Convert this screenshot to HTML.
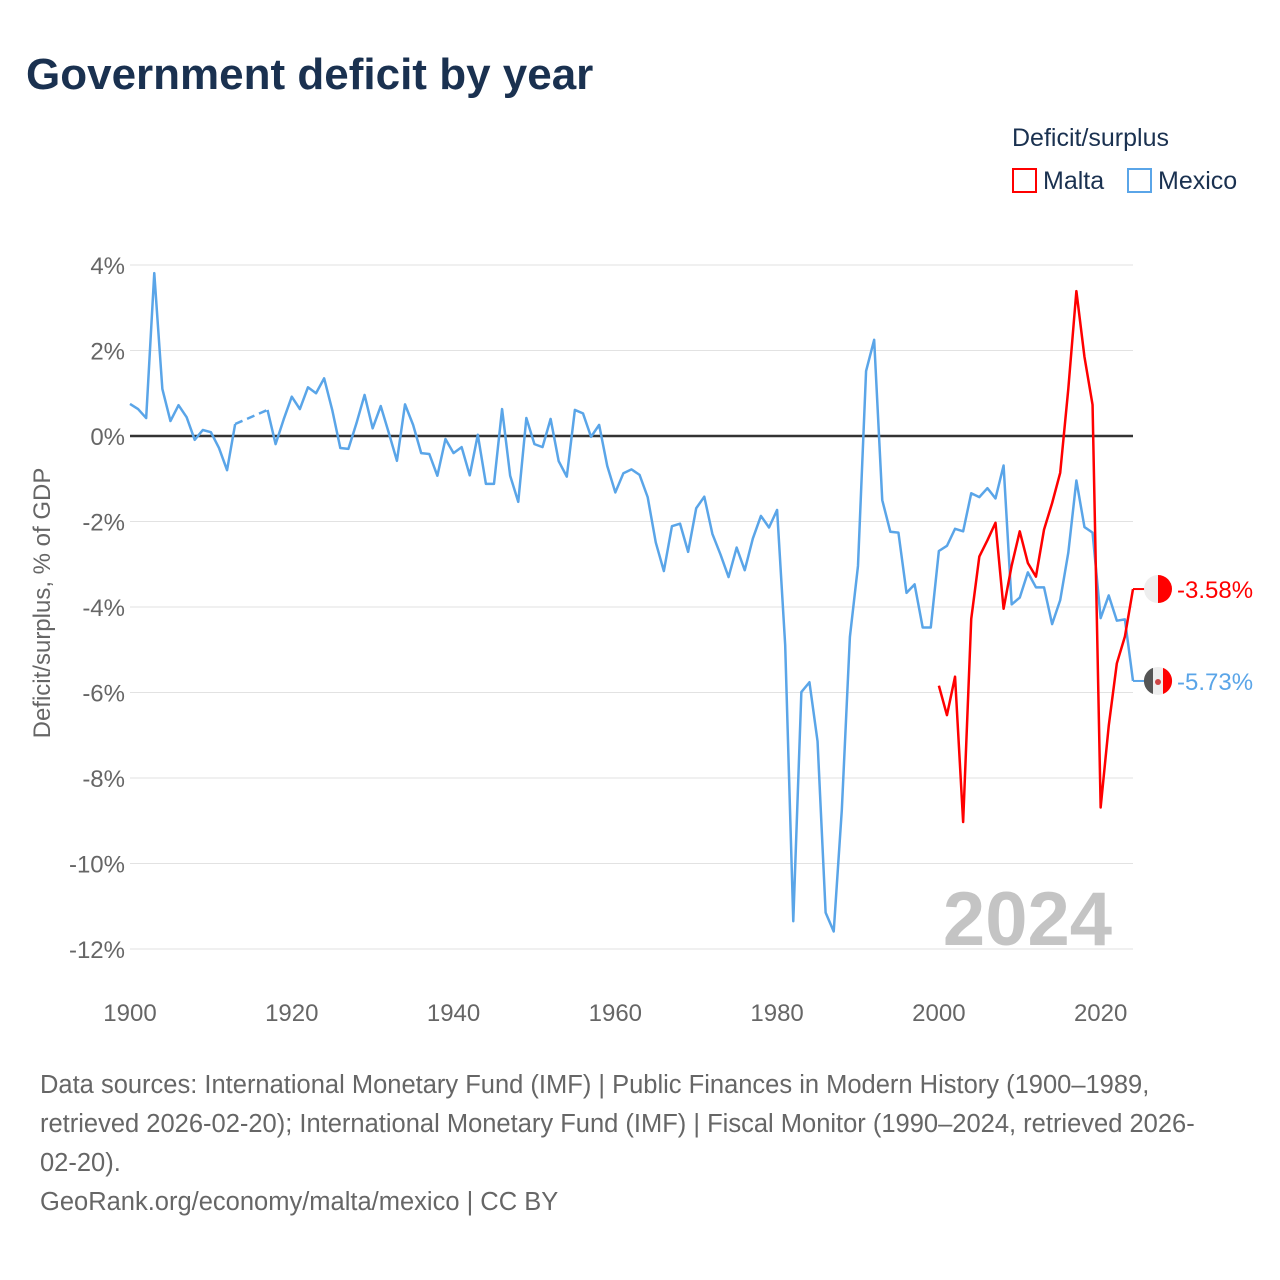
<!DOCTYPE html>
<html><head><meta charset="utf-8">
<style>
body{margin:0;width:1280px;height:1280px;background:#fff;font-family:"Liberation Sans",sans-serif;overflow:hidden;position:relative}
.t{position:absolute;white-space:nowrap}
</style></head><body>
<div class="t" style="left:26px;top:50px;font-size:44px;font-weight:bold;color:#1a3150;letter-spacing:0px">Government deficit by year</div>
<div class="t" style="left:1012px;top:124px;font-size:25px;color:#1a3150">Deficit/surplus</div>
<div class="t" style="left:1012px;top:167px;font-size:25px;color:#1a3150"><span style="display:inline-block;width:21px;height:21px;border:2px solid #f00;vertical-align:-4px;margin-right:6px"></span>Malta</div>
<div class="t" style="left:1127px;top:167px;font-size:25px;color:#1a3150"><span style="display:inline-block;width:21px;height:21px;border:2px solid #5aa5e8;vertical-align:-4px;margin-right:6px"></span>Mexico</div>
<svg id="chart" width="1280" height="1280" style="position:absolute;left:0;top:0"></svg>
<div class="t" style="left:40px;top:1066px;font-size:25.5px;line-height:39px;color:#666">Data sources: International Monetary Fund (IMF) | Public Finances in Modern History (1900–1989,<br>retrieved 2026-02-20); International Monetary Fund (IMF) | Fiscal Monitor (1990–2024, retrieved 2026-<br>02-20).<br>GeoRank.org/economy/malta/mexico | CC BY</div>
<script>
const years=[];for(let y=1900;y<=2024;y++)years.push(y);
const yTicks=[4,2,0,-2,-4,-6,-8,-10,-12];
const xTicks=[1900,1920,1940,1960,1980,2000,2020];
const mexico=[0.75,0.63,0.42,3.81,1.10,0.35,0.72,0.44,-0.09,0.14,0.09,-0.28,-0.8,0.28,null,null,null,0.61,-0.19,0.39,
0.92,0.63,1.14,1.0,1.35,0.61,-0.28,-0.3,0.3,0.96,0.18,0.7,0.07,-0.58,0.74,0.26,-0.4,-0.42,-0.93,-0.07,
-0.4,-0.26,-0.92,0.03,-1.12,-1.12,0.63,-0.93,-1.54,0.42,-0.19,-0.26,0.4,-0.59,-0.95,0.61,0.53,-0.02,0.26,-0.7,
-1.32,-0.87,-0.78,-0.91,-1.43,-2.49,-3.16,-2.11,-2.05,-2.71,-1.69,-1.42,-2.29,-2.77,-3.3,-2.61,-3.14,-2.4,-1.87,-2.14,
-1.73,-4.89,-11.35,-5.99,-5.76,-7.14,-11.15,-11.59,-8.75,-4.7,-3.04,1.52,2.25,-1.5,-2.24,-2.26,-3.67,-3.47,-4.48,-4.48,
-2.69,-2.57,-2.17,-2.23,-1.34,-1.43,-1.22,-1.46,-0.69,-3.94,-3.78,-3.19,-3.54,-3.54,-4.4,-3.84,-2.73,-1.04,-2.13,-2.26,
-4.26,-3.73,-4.32,-4.29,-5.73];
const maltaYears=[2000,2001,2002,2003,2004,2005,2006,2007,2008,2009,2010,2011,2012,2013,2014,2015,2016,2017,2018,2019,2020,2021,2022,2023,2024];
const malta=[-5.84,-6.53,-5.63,-9.03,-4.28,-2.82,-2.44,-2.03,-4.04,-3.03,-2.23,-2.97,-3.29,-2.19,-1.57,-0.86,1.1,3.39,1.85,0.73,-8.69,-6.78,-5.32,-4.69,-3.58];
const svg=document.getElementById('chart');const NS='http://www.w3.org/2000/svg';
const X=y=>130+(y-1900)*(1133-130)/124;
const Y=v=>436-v*42.75;
function mk(tag,attrs,parent){const e=document.createElementNS(NS,tag);for(const k in attrs)e.setAttribute(k,attrs[k]);(parent||svg).appendChild(e);return e;}
yTicks.forEach(v=>{
 const g=mk('line',{x1:130,x2:1133,y1:Y(v),y2:Y(v),stroke:v===0?'#333':'#e2e2e2','stroke-width':v===0?2.5:1});
 
 
 const t=mk('text',{x:125,y:Y(v)+9,'text-anchor':'end','font-size':24,fill:'#666','font-family':'Liberation Sans, sans-serif'});
 t.textContent=v+'%';
 
 
});
xTicks.forEach(v=>{
 const t=mk('text',{x:X(v),y:1021,'text-anchor':'middle','font-size':24,fill:'#666','font-family':'Liberation Sans, sans-serif'});
 t.textContent=v;
 
 
});
const yt=mk('text',{transform:'translate(50,603) rotate(-90)','text-anchor':'middle','font-size':24,fill:'#666','font-family':'Liberation Sans, sans-serif'});
yt.textContent='Deficit/surplus, % of GDP';


const wm=mk('text',{x:1112,y:945,'text-anchor':'end','font-size':76,'font-weight':'bold',fill:'#c4c4c4','font-family':'Liberation Sans, sans-serif'});
wm.textContent='2024';


function series(xs,vals,color,name){
 let segs=[],cur=[],gaps=[];let last=null;
 vals.forEach((v,i)=>{if(v===null){if(cur.length){segs.push(cur);cur=[];}}else{if(last&&last.i<i-1)gaps.push([last.p,[X(xs[i]),Y(v)]]);const p=[X(xs[i]),Y(v)];cur.push(p);last={i,p};}});
 if(cur.length)segs.push(cur);
 segs.forEach(s=>{const p=mk('path',{d:'M'+s.map(q=>q.join(',')).join('L'),fill:'none',stroke:color,'stroke-width':2.5,'stroke-linejoin':'round'});
  
  });
 gaps.forEach(g=>{const p=mk('line',{x1:g[0][0],y1:g[0][1],x2:g[1][0],y2:g[1][1],stroke:color,'stroke-width':2.5,'stroke-dasharray':'8,5'});
  
  });
}
series(years,mexico,'#5aa5e8','mexico');
series(maltaYears,malta,'#ff0000','malta');
function endLabel(v,color,name,flag){
 const y=Y(v);
 const l=mk('line',{x1:1133,x2:1145,y1:y,y2:y,stroke:color,'stroke-width':2});
 
 
 const g=mk('g',{});
 
 
 mk('circle',{cx:1158,cy:y,r:14,fill:'#eee'},g);
 if(flag==='mt'){mk('path',{d:`M1158,${y-14}A14,14 0 0 1 1158,${y+14}Z`,fill:'#f00'},g);}
 else{mk('path',{d:`M1153,${y-13.1}A14,14 0 0 0 1153,${y+13.1}Z`,fill:'#555'},g);mk('path',{d:`M1163,${y-13.1}A14,14 0 0 1 1163,${y+13.1}Z`,fill:'#f00'},g);mk('circle',{cx:1158,cy:y+1,r:3,fill:'#c44'},g);}
 const t=mk('text',{x:1177,y:y+9,'font-size':24,fill:color,'font-family':'Liberation Sans, sans-serif'});
 t.textContent=v.toFixed(2)+'%';
 
 
}
endLabel(malta[malta.length-1],'#ff0000','malta','mt');
endLabel(mexico[mexico.length-1],'#5aa5e8','mexico','mx');
</script>
</body></html>
